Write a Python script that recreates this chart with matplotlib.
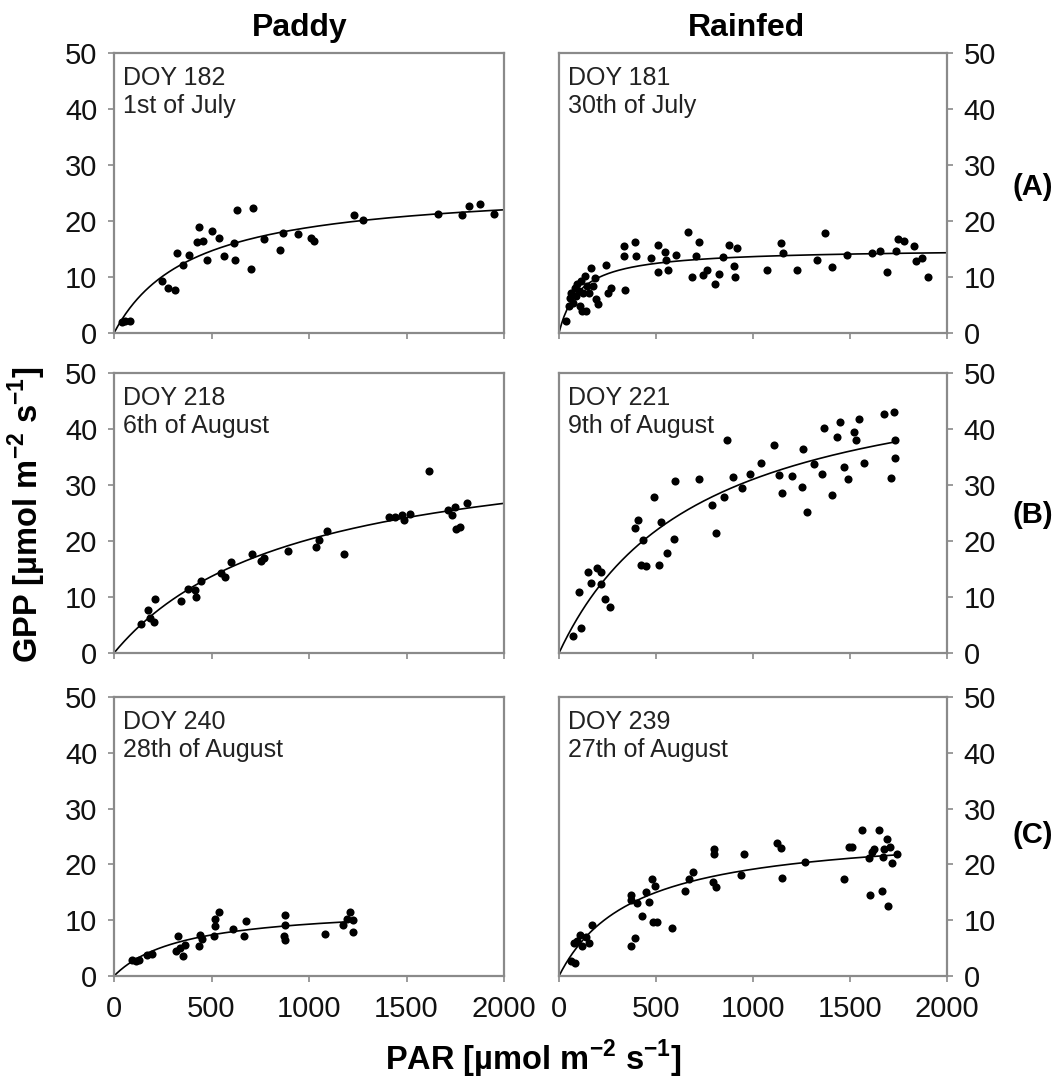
import numpy as np
import matplotlib
matplotlib.use("Agg")
import matplotlib.pyplot as plt

plt.rcParams["font.family"] = ["Liberation Sans", "DejaVu Sans"]
plt.rcParams["mathtext.fontset"] = "custom"
plt.rcParams["mathtext.rm"] = "Liberation Sans"
plt.rcParams["mathtext.bf"] = "Liberation Sans:bold"

# ---- data (PAR, GPP) ----
paddy_a_par = [39, 56, 82, 244, 279, 313, 325, 352, 386, 424, 438, 458, 475, 501, 540, 564, 615,
               621, 632, 701, 711, 769, 851, 868, 945, 1009, 1026, 1231, 1279, 1663, 1783, 1822,
               1877, 1949]
paddy_a_gpp = [1.9, 2.1, 2.1, 9.2, 8.0, 7.6, 14.3, 12.2, 14.0, 16.2, 19.0, 16.5, 13.0, 18.3, 17.0,
               13.7, 16.0, 13.0, 22.0, 11.5, 22.4, 16.7, 14.9, 17.9, 17.7, 17.0, 16.4, 21.0, 20.2,
               21.2, 21.0, 22.7, 23.0, 21.3]

rain_a_par = [38, 52, 55, 64, 72, 81, 90, 93, 103, 107, 115, 120, 124, 133, 138, 145, 155, 167,
              176, 184, 193, 201, 241, 253, 270, 339, 334, 334, 391, 399, 472, 511, 511, 546, 554,
              563, 602, 666, 683, 706, 723, 744, 761, 804, 826, 843, 878, 916, 902, 907, 1074,
              1143, 1157, 1225, 1332, 1372, 1406, 1487, 1613, 1656, 1690, 1738, 1745, 1780, 1831,
              1842, 1871, 1900]
rain_a_gpp = [2.1, 4.8, 6.3, 7.2, 5.4, 8.1, 6.6, 8.7, 7.5, 4.8, 9.2, 3.9, 7.2, 10.1, 3.9, 8.4,
              7.2, 11.6, 8.4, 9.8, 6.0, 5.1, 12.2, 7.2, 8.1, 7.6, 15.5, 13.7, 16.3, 13.7, 13.4,
              15.8, 10.9, 14.4, 13.1, 11.3, 14.0, 18.0, 10.0, 13.7, 16.2, 10.4, 11.3, 8.7, 10.6,
              13.6, 15.8, 15.2, 11.9, 10.0, 11.2, 16.0, 14.2, 11.3, 13.0, 17.9, 11.7, 13.9, 14.3,
              14.6, 10.9, 14.6, 16.8, 16.4, 15.5, 12.8, 13.4, 10.0]

paddy_b_par = [138, 175, 186, 203, 210, 344, 382, 422, 417, 448, 547, 571, 602, 706, 754, 771,
               892, 1036, 1050, 1093, 1179, 1411, 1442, 1477, 1489, 1518, 1614, 1713, 1735, 1747,
               1752, 1776, 1811]
paddy_b_gpp = [5.1, 7.7, 6.3, 5.5, 9.7, 9.3, 11.5, 10.0, 11.3, 12.9, 14.2, 13.5, 16.3, 17.6, 16.5,
               17.0, 18.2, 18.9, 20.1, 21.8, 17.7, 24.3, 24.3, 24.6, 23.8, 24.8, 32.5, 25.5, 24.6,
               26.1, 22.2, 22.5, 26.8]

rain_b_par = [74, 112, 103, 149, 167, 194, 215, 215, 235, 263, 390, 407, 434, 421, 446, 489, 515,
              527, 555, 592, 596, 721, 790, 809, 853, 867, 898, 944, 987, 1039, 1107, 1133, 1150,
              1202, 1253, 1258, 1276, 1317, 1358, 1365, 1408, 1433, 1447, 1471, 1488, 1519, 1533,
              1545, 1571, 1677, 1725, 1713, 1730, 1734]
rain_b_gpp = [3.0, 4.5, 10.9, 14.5, 12.5, 15.2, 14.5, 12.4, 9.6, 8.2, 22.4, 23.7, 20.2, 15.8,
              15.6, 27.9, 15.8, 23.4, 17.9, 20.3, 30.8, 31.0, 26.5, 21.5, 27.9, 38.0, 31.4, 29.5,
              31.9, 33.9, 37.1, 31.7, 28.6, 31.6, 29.6, 36.5, 25.1, 33.8, 32.0, 40.1, 28.2, 38.5,
              41.2, 33.2, 31.1, 39.5, 38.1, 41.8, 34.0, 42.7, 43.0, 31.2, 38.1, 34.8]

paddy_c_par = [91, 113, 130, 168, 193, 318, 330, 338, 352, 364, 438, 441, 450, 513, 518, 518, 540,
               609, 667, 677, 877, 877, 872, 877, 1082, 1176, 1197, 1210, 1227, 1224]
paddy_c_gpp = [2.9, 2.6, 2.9, 3.8, 3.9, 4.4, 7.2, 5.0, 3.5, 5.6, 5.3, 7.4, 6.6, 7.2, 9.0, 10.3,
               11.4, 8.4, 7.1, 9.9, 10.9, 9.2, 7.2, 6.5, 7.5, 9.2, 10.3, 11.4, 10.0, 7.8]

rain_c_par = [60, 81, 77, 94, 108, 120, 137, 155, 172, 369, 390, 369, 373, 403, 429, 446, 463,
              481, 493, 486, 506, 584, 652, 670, 692, 798, 798, 795, 807, 939, 953, 1124, 1145,
              1150, 1270, 1471, 1494, 1511, 1562, 1597, 1605, 1614, 1626, 1648, 1665, 1670, 1677,
              1691, 1694, 1705, 1717, 1742]
rain_c_gpp = [2.6, 2.3, 5.9, 6.3, 7.4, 5.3, 6.9, 5.9, 9.2, 5.4, 6.8, 14.5, 13.6, 13.0, 10.8,
              15.1, 13.3, 17.3, 16.1, 9.7, 9.7, 8.6, 15.3, 17.3, 18.7, 22.7, 21.9, 16.9, 15.9,
              18.1, 21.9, 23.9, 22.9, 17.6, 20.4, 17.3, 23.1, 23.1, 26.2, 21.1, 14.5, 22.3, 22.7,
              26.2, 15.3, 21.4, 22.7, 24.5, 12.6, 23.1, 20.2, 21.9]

# light-response fit (rectangular hyperbola): alpha, Pmax, end of fitted PAR range
fit_alpha = [0.066, 0.141, 0.042, 0.074, 0.0354, 0.069]
fit_pmax = [26.4, 15.1, 39.2, 53.4, 12.6, 26.5]
fit_end = [2000, 2000, 2000, 1730, 1227, 1742]

doy_labels = ["DOY 182\n1st of July", "DOY 181\n30th of July",
              "DOY 218\n6th of August", "DOY 221\n9th of August",
              "DOY 240\n28th of August", "DOY 239\n27th of August"]
row_tags = ["(A)", "(B)", "(C)"]
col_titles = ["Paddy", "Rainfed"]

panels = [(paddy_a_par, paddy_a_gpp), (rain_a_par, rain_a_gpp),
          (paddy_b_par, paddy_b_gpp), (rain_b_par, rain_b_gpp),
          (paddy_c_par, paddy_c_gpp), (rain_c_par, rain_c_gpp)]

W, H = 1061, 1082
fig = plt.figure(figsize=(W / 100, H / 100), dpi=100)

col_px = [(114, 504), (559, 947)]
row_px = [(53, 333), (373, 653), (697, 976)]
frame = "#8a8a8a"

for i, (par, gpp) in enumerate(panels):
    r, c = divmod(i, 2)
    x0, x1 = col_px[c]
    y0, y1 = row_px[r]
    ax = fig.add_axes([x0 / W, 1 - y1 / H, (x1 - x0) / W, (y1 - y0) / H])
    ax.scatter(par, gpp, s=34, color="black", zorder=3, linewidths=0)
    q = np.linspace(0, fit_end[i], 300)
    a, p = fit_alpha[i], fit_pmax[i]
    ax.plot(q, a * q * p / (a * q + p), color="black", lw=1.2, zorder=2)
    ax.set_xlim(0, 2000)
    ax.set_ylim(0, 50)
    ax.set_xticks([0, 500, 1000, 1500, 2000])
    ax.set_yticks([0, 10, 20, 30, 40, 50])
    for sp in ax.spines.values():
        sp.set_color(frame)
        sp.set_linewidth(1.6)
    ax.tick_params(colors=frame, labelcolor="#111111", labelsize=21, length=4,
                   width=1.2, direction="out")
    ax.tick_params(axis="x", pad=10)
    ax.tick_params(axis="y", pad=8)
    if c == 1:
        ax.yaxis.tick_right()
    if r < 2:
        ax.tick_params(axis="x", labelbottom=False)
    ax.text(0.023, 0.955, doy_labels[i], transform=ax.transAxes, ha="left", va="top",
            fontsize=18, color="#222222", linespacing=1.25)

fig.text(300 / W, 1 - 28 / H, col_titles[0], ha="center", va="center",
         fontsize=23, fontweight="bold")
fig.text(746 / W, 1 - 28 / H, col_titles[1], ha="center", va="center",
         fontsize=23, fontweight="bold")
for tag, py in zip(row_tags, [187, 515, 835]):
    fig.text(1033 / W, 1 - py / H, tag, ha="center", va="center",
             fontsize=21, fontweight="bold")

fig.text(27 / W, 1 - 515 / H, r"GPP [µmol m$^{\mathbf{-2}}$ s$^{\mathbf{-1}}$]",
         rotation=90, ha="center", va="center", fontsize=23.5, fontweight="bold")
fig.text(533 / W, 1 - 1059 / H, r"PAR [µmol m$^{\mathbf{-2}}$ s$^{\mathbf{-1}}$]",
         ha="center", va="center", fontsize=23.5, fontweight="bold")

fig.savefig("out.png", dpi=100)
